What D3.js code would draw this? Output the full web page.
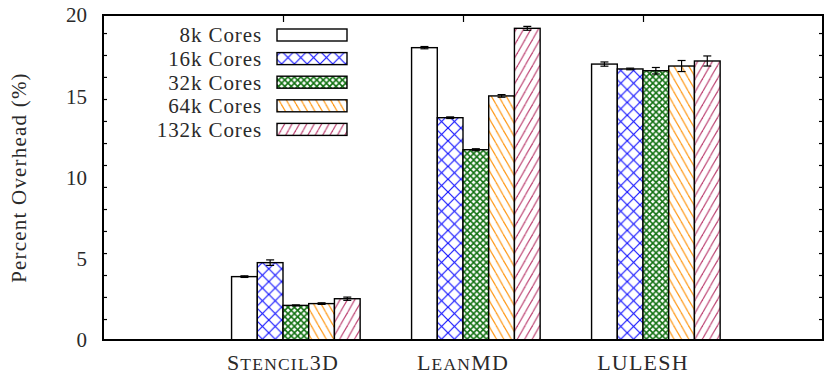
<!DOCTYPE html>
<html><head><meta charset="utf-8">
<script src="https://cdn.jsdelivr.net/npm/d3@7"></script>
<style>html,body{margin:0;padding:0;background:#fff;}svg{display:block;}</style>
</head><body>
<script>
const categories = ["Stencil3D", "LeanMD", "LULESH"];
const series = ["8k Cores", "16k Cores", "32k Cores", "64k Cores", "132k Cores"];
// values[series][category]
const values = [
  [3.90, 17.99, 16.98],
  [4.76, 13.68, 16.68],
  [2.13, 11.71, 16.57],
  [2.24, 15.02, 16.86],
  [2.54, 19.18, 17.17]
];
const errors = [
  [0.05, 0.07, 0.13],
  [0.17, 0.05, 0.05],
  [0.03, 0.06, 0.20],
  [0.05, 0.08, 0.34],
  [0.10, 0.12, 0.31]
];
const yTicks = [0, 5, 10, 15, 20];
// tick marks on the left/right borders (as seen in the picture, not aligned with labels)
const yTickMarks = [1.29, 2.65, 4.00, 5.35, 6.71, 8.06, 9.42, 10.77, 12.12, 13.48, 14.83, 16.19, 17.54, 18.89];
const xLabelParts = [
  [["S", 1], ["TENCIL", 0], ["3D", 1]],
  [["L", 1], ["EAN", 0], ["MD", 1]],
  [["LULESH", 1]]
];

const W = 826, H = 374;
const m = {left: 103, right: 3, top: 15, bottom: 34};
const font = "'Liberation Serif', 'DejaVu Serif', serif";
const txt = "#2a2a2a";

const svg = d3.select("body").append("svg").attr("width", W).attr("height", H);
const defs = svg.append("defs");

const x = d3.scaleLinear().domain([-1, 3]).range([m.left, W - m.right]);
const y = d3.scaleLinear().domain([0, 20]).range([H - m.bottom, m.top]);
const bw = x(1 / 7) - x(0);

// patterns
function crossPat(id, size, color, sw) {
  const p = defs.append("pattern").attr("id", id).attr("patternUnits", "userSpaceOnUse")
    .attr("width", size).attr("height", size);
  p.append("rect").attr("width", size).attr("height", size).attr("fill", "#fff");
  [[0, 0, size, size], [0, size, size, 0], [-size, 0, 0, size], [size, 0, 2 * size, size],
   [-size, size, 0, 0], [size, size, 2 * size, 0]].forEach(l =>
    p.append("line").attr("x1", l[0]).attr("y1", l[1]).attr("x2", l[2]).attr("y2", l[3])
      .attr("stroke", color).attr("stroke-width", sw));
}
function hatchPat(id, w, h, color, sw, dir) {
  const p = defs.append("pattern").attr("id", id).attr("patternUnits", "userSpaceOnUse")
    .attr("width", w).attr("height", h);
  p.append("rect").attr("width", w).attr("height", h).attr("fill", "#fff");
  [-w, 0, w].forEach(o => {
    if (dir > 0) // "\"
      p.append("line").attr("x1", o).attr("y1", 0).attr("x2", o + w).attr("y2", h)
        .attr("stroke", color).attr("stroke-width", sw);
    else // "/"
      p.append("line").attr("x1", o).attr("y1", h).attr("x2", o + w).attr("y2", 0)
        .attr("stroke", color).attr("stroke-width", sw);
  });
}
crossPat("p16", 12.8, "#1a1aff", 1.2);
crossPat("p32", 6.4, "#107010", 1.5);
hatchPat("p64", 7.4, 13, "#ff9a1a", 1.2, 1);
hatchPat("p132", 7.4, 13, "#c04a78", 1.2, -1);
const fills = ["#fff", "url(#p16)", "url(#p32)", "url(#p64)", "url(#p132)"];

// bars
series.forEach((s, j) => {
  const g = svg.append("g");
  categories.forEach((c, i) => {
    const left = x(i + (j - 2) / 7);
    g.append("rect").attr("x", left).attr("y", y(values[j][i]))
      .attr("width", bw).attr("height", y(0) - y(values[j][i]))
      .attr("fill", fills[j]).attr("stroke", "#000").attr("stroke-width", 1.4);
  });
});
// error bars
series.forEach((s, j) => {
  categories.forEach((c, i) => {
    const cx = x(i + (j - 2) / 7) + bw / 2;
    const lo = y(values[j][i] - errors[j][i]), hi = y(values[j][i] + errors[j][i]);
    const g = svg.append("g").attr("stroke", "#000").attr("stroke-width", 1.2);
    g.append("line").attr("x1", cx).attr("x2", cx).attr("y1", lo).attr("y2", hi);
    g.append("line").attr("x1", cx - 4).attr("x2", cx + 4).attr("y1", lo).attr("y2", lo);
    g.append("line").attr("x1", cx - 4).attr("x2", cx + 4).attr("y1", hi).attr("y2", hi);
  });
});

// axes ticks (inward) using d3 axes
const yAxL = svg.append("g").attr("transform", `translate(${m.left},0)`)
  .call(d3.axisRight(y).tickValues(yTickMarks).tickSize(4).tickFormat(""));
const yAxR = svg.append("g").attr("transform", `translate(${W - m.right},0)`)
  .call(d3.axisLeft(y).tickValues(yTickMarks).tickSize(4).tickFormat(""));
const xAxT = svg.append("g").attr("transform", `translate(0,${m.top})`)
  .call(d3.axisBottom(x).tickValues([0, 1, 2]).tickSize(7).tickFormat(""));
[yAxL, yAxR, xAxT].forEach(a => {
  a.select(".domain").remove();
  a.selectAll("line").attr("stroke", "#000").attr("stroke-width", 1.2);
});

// frame
svg.append("rect").attr("x", m.left).attr("y", m.top)
  .attr("width", W - m.left - m.right).attr("height", H - m.top - m.bottom)
  .attr("fill", "none").attr("stroke", "#000").attr("stroke-width", 2);

// y tick labels
svg.append("g").selectAll("text").data(yTicks).join("text")
  .attr("x", 87).attr("y", d => y(d)).attr("dy", "0.35em")
  .attr("text-anchor", "end").attr("font-family", font).attr("font-size", 21)
  .attr("fill", txt).text(d => d);

// y label
svg.append("text").attr("transform", `translate(26,${(m.top + H - m.bottom) / 2}) rotate(-90)`)
  .attr("text-anchor", "middle").attr("font-family", font).attr("font-size", 21)
  .attr("letter-spacing", 1.2).attr("fill", txt).text("Percent Overhead (%)");

// x labels (small caps)
categories.forEach((c, i) => {
  const t = svg.append("text").attr("x", x(i)).attr("y", 370).attr("text-anchor", "middle")
    .attr("font-family", font).attr("font-size", 22).attr("fill", txt)
    .attr("letter-spacing", 1.2);
  xLabelParts[i].forEach(p => t.append("tspan").attr("font-size", p[1] ? 22 : 17.5).text(p[0]));
});

// legend
series.forEach((s, j) => {
  const cy = 35 + j * 23.6;
  svg.append("text").attr("x", 262).attr("y", cy).attr("dy", "0.35em")
    .attr("text-anchor", "end").attr("font-family", font).attr("font-size", 21)
    .attr("letter-spacing", 0.9).attr("fill", txt).text(s);
  svg.append("rect").attr("x", 277).attr("y", cy - 6).attr("width", 70).attr("height", 12)
    .attr("fill", fills[j]).attr("stroke", "#000").attr("stroke-width", 1.4);
});
</script>
</body></html>
